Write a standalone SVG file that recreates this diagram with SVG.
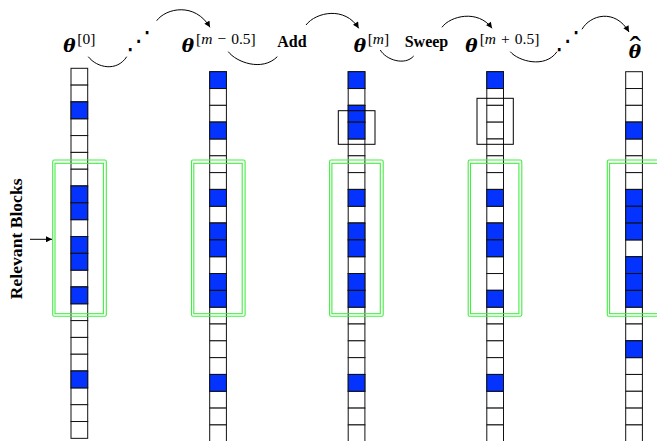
<svg xmlns="http://www.w3.org/2000/svg" width="657" height="441" viewBox="0 0 657 441">
<style>
.w{fill:#fff;stroke:#111;stroke-width:1}
.b{fill:#0433ff;stroke:#111;stroke-width:1}
.g{fill:none;stroke:#44ee44;stroke-width:1.1}
.k{fill:none;stroke:#000;stroke-width:1}
.c{fill:none;stroke:#000;stroke-width:1}
.th{font-family:"DejaVu Serif",serif;font-weight:bold;font-style:italic;font-size:18.5px}
.sup{font-family:"Liberation Serif",serif;font-size:15.5px}
.lb{font-family:"Liberation Serif",serif;font-weight:bold;font-size:16px}
.dots{font-family:"DejaVu Sans",sans-serif;font-size:25px}
.hat{font-family:"Liberation Serif",serif;font-size:34px}
.rb{font-family:"Liberation Serif",serif;font-weight:bold;font-size:17.6px}
</style>
<defs>
<marker id="ah" viewBox="0 0 10 10" refX="10" refY="5" markerWidth="7" markerHeight="6" markerUnits="userSpaceOnUse" orient="auto">
<path d="M0,0 L10,5 L0,10 z" fill="#000"/>
</marker>
<g id="col">
<rect class="w" x="0" y="0" width="16.7" height="16.82"/>
<rect class="w" x="0" y="16.82" width="16.7" height="16.82"/>
<rect class="w" x="0" y="33.64" width="16.7" height="16.82"/>
<rect class="w" x="0" y="50.46" width="16.7" height="16.82"/>
<rect class="w" x="0" y="67.28" width="16.7" height="16.82"/>
<rect class="w" x="0" y="84.1" width="16.7" height="16.82"/>
<rect class="w" x="0" y="100.92" width="16.7" height="16.82"/>
<rect class="w" x="0" y="117.74" width="16.7" height="16.82"/>
<rect class="w" x="0" y="134.56" width="16.7" height="16.82"/>
<rect class="w" x="0" y="151.38" width="16.7" height="16.82"/>
<rect class="w" x="0" y="168.2" width="16.7" height="16.82"/>
<rect class="w" x="0" y="185.02" width="16.7" height="16.82"/>
<rect class="w" x="0" y="201.84" width="16.7" height="16.82"/>
<rect class="w" x="0" y="218.66" width="16.7" height="16.82"/>
<rect class="w" x="0" y="235.48" width="16.7" height="16.82"/>
<rect class="w" x="0" y="252.3" width="16.7" height="16.82"/>
<rect class="w" x="0" y="269.12" width="16.7" height="16.82"/>
<rect class="w" x="0" y="285.94" width="16.7" height="16.82"/>
<rect class="w" x="0" y="302.76" width="16.7" height="16.82"/>
<rect class="w" x="0" y="319.58" width="16.7" height="16.82"/>
<rect class="w" x="0" y="336.4" width="16.7" height="16.82"/>
<rect class="w" x="0" y="353.22" width="16.7" height="16.82"/>
</g>
</defs>

<g id="column1" transform="translate(71,68.3)">
<use href="#col"/>
<rect class="b" x="0" y="33.64" width="16.7" height="16.82"/>
<rect class="b" x="0" y="117.74" width="16.7" height="16.82"/>
<rect class="b" x="0" y="134.56" width="16.7" height="16.82"/>
<rect class="b" x="0" y="168.2" width="16.7" height="16.82"/>
<rect class="b" x="0" y="185.02" width="16.7" height="16.82"/>
<rect class="b" x="0" y="218.66" width="16.7" height="16.82"/>
<rect class="b" x="0" y="302.76" width="16.7" height="16.82"/>
</g>
<g id="column2" transform="translate(209.7,71.7)">
<use href="#col"/>
<rect class="b" x="0" y="0" width="16.7" height="16.82"/>
<rect class="b" x="0" y="50.46" width="16.7" height="16.82"/>
<rect class="b" x="0" y="117.74" width="16.7" height="16.82"/>
<rect class="b" x="0" y="151.38" width="16.7" height="16.82"/>
<rect class="b" x="0" y="168.2" width="16.7" height="16.82"/>
<rect class="b" x="0" y="201.84" width="16.7" height="16.82"/>
<rect class="b" x="0" y="218.66" width="16.7" height="16.82"/>
<rect class="b" x="0" y="302.76" width="16.7" height="16.82"/>
</g>
<g id="column3" transform="translate(348.2,71.7)">
<use href="#col"/>
<rect class="b" x="0" y="0" width="16.7" height="16.82"/>
<rect class="b" x="0" y="33.64" width="16.7" height="16.82"/>
<rect class="b" x="0" y="50.46" width="16.7" height="16.82"/>
<rect class="b" x="0" y="117.74" width="16.7" height="16.82"/>
<rect class="b" x="0" y="151.38" width="16.7" height="16.82"/>
<rect class="b" x="0" y="168.2" width="16.7" height="16.82"/>
<rect class="b" x="0" y="201.84" width="16.7" height="16.82"/>
<rect class="b" x="0" y="218.66" width="16.7" height="16.82"/>
<rect class="b" x="0" y="302.76" width="16.7" height="16.82"/>
</g>
<g id="column4" transform="translate(486.8,71.7)">
<use href="#col"/>
<rect class="b" x="0" y="0" width="16.7" height="16.82"/>
<rect class="b" x="0" y="117.74" width="16.7" height="16.82"/>
<rect class="b" x="0" y="151.38" width="16.7" height="16.82"/>
<rect class="b" x="0" y="168.2" width="16.7" height="16.82"/>
<rect class="b" x="0" y="218.66" width="16.7" height="16.82"/>
<rect class="b" x="0" y="302.76" width="16.7" height="16.82"/>
</g>
<g id="column5" transform="translate(625.7,71.7)">
<use href="#col"/>
<rect class="b" x="0" y="50.46" width="16.7" height="16.82"/>
<rect class="b" x="0" y="117.74" width="16.7" height="16.82"/>
<rect class="b" x="0" y="134.56" width="16.7" height="16.82"/>
<rect class="b" x="0" y="151.38" width="16.7" height="16.82"/>
<rect class="b" x="0" y="185.02" width="16.7" height="16.82"/>
<rect class="b" x="0" y="201.84" width="16.7" height="16.82"/>
<rect class="b" x="0" y="218.66" width="16.7" height="16.82"/>
<rect class="b" x="0" y="269.12" width="16.7" height="16.82"/>
</g>

<g id="relevant-boxes">
<rect class="g" x="52.7" y="160" width="53.6" height="156.3" rx="1.5"/>
<rect class="g" x="55" y="163.3" width="48.4" height="150.4"/>
<rect class="g" x="191.5" y="160" width="53.6" height="156.3" rx="1.5"/>
<rect class="g" x="193.8" y="163.3" width="48.4" height="150.4"/>
<rect class="g" x="329.6" y="160" width="53.6" height="156.3" rx="1.5"/>
<rect class="g" x="331.9" y="163.3" width="48.4" height="150.4"/>
<rect class="g" x="468.2" y="160" width="53.6" height="156.3" rx="1.5"/>
<rect class="g" x="470.5" y="163.3" width="48.4" height="150.4"/>
<rect class="g" x="607.3" y="160" width="53.6" height="156.3" rx="1.5"/>
<rect class="g" x="609.6" y="163.3" width="48.4" height="150.4"/>
</g>
<g id="sweep-boxes">
<rect class="k" x="338.3" y="110.7" width="36.7" height="33.6"/>
<rect class="k" x="477" y="98.3" width="36.3" height="46"/>
</g>

<g id="n-theta0"><text y="52"><tspan class="th" x="63.3">θ</tspan><tspan class="sup" x="77.3" y="44">[0]</tspan></text></g>
<g id="n-dots1"><text class="dots" x="126" y="49">⋰</text></g>
<g id="n-theta-m-half"><text y="52"><tspan class="th" x="181.7">θ</tspan><tspan class="sup" x="196" y="44">[<tspan font-style="italic">m</tspan><tspan dx="5">−</tspan><tspan dx="5">0.5]</tspan></tspan></text></g>
<g id="n-add"><text class="lb" x="277.3" y="46.7">Add</text></g>
<g id="n-theta-m"><text y="51.7"><tspan class="th" x="353.7">θ</tspan><tspan class="sup" x="367.7" y="44">[<tspan font-style="italic">m</tspan>]</tspan></text></g>
<g id="n-sweep"><text class="lb" x="404.7" y="46.7">Sweep</text></g>
<g id="n-theta-m-plus"><text y="51.7"><tspan class="th" x="465.3">θ</tspan><tspan class="sup" x="479.7" y="44">[<tspan font-style="italic">m</tspan><tspan dx="5">+</tspan><tspan dx="5">0.5]</tspan></tspan></text></g>
<g id="n-dots2"><text class="dots" x="555" y="49">⋰</text></g>
<g id="n-theta-hat"><text><tspan class="th" x="628.7" y="58.3">θ</tspan><tspan class="hat" x="629.5" y="60">ˆ</tspan></text></g>
<g id="n-label"><text class="rb" x="22.5" y="238.8" text-anchor="middle" transform="rotate(-90 22.5 238.8)">Relevant Blocks</text></g>

<g id="connectors">
<path class="c" d="M88.3,56.7 C97,68 117,72 126.7,56.7"/>
<path class="c" d="M156.7,20.7 C166,8 195,2 210,27.3" marker-end="url(#ah)"/>
<path class="c" d="M228.3,51.7 C236,62 262,72 277.3,56.7"/>
<path class="c" d="M306,25 C316,12 345,6 358.7,28.3" marker-end="url(#ah)"/>
<path class="c" d="M380.3,50 C386,60 405,66 413.7,56"/>
<path class="c" d="M442,27.3 C450,16 478,9 492,28.3" marker-end="url(#ah)"/>
<path class="c" d="M510.3,51.7 C518,61 545,69 557,51.7"/>
<path class="c" d="M582,29.3 C590,15 615,8 629,32" marker-end="url(#ah)"/>
<path class="c" d="M30,239.3 L52,239.3" marker-end="url(#ah)"/>
</g>
</svg>
